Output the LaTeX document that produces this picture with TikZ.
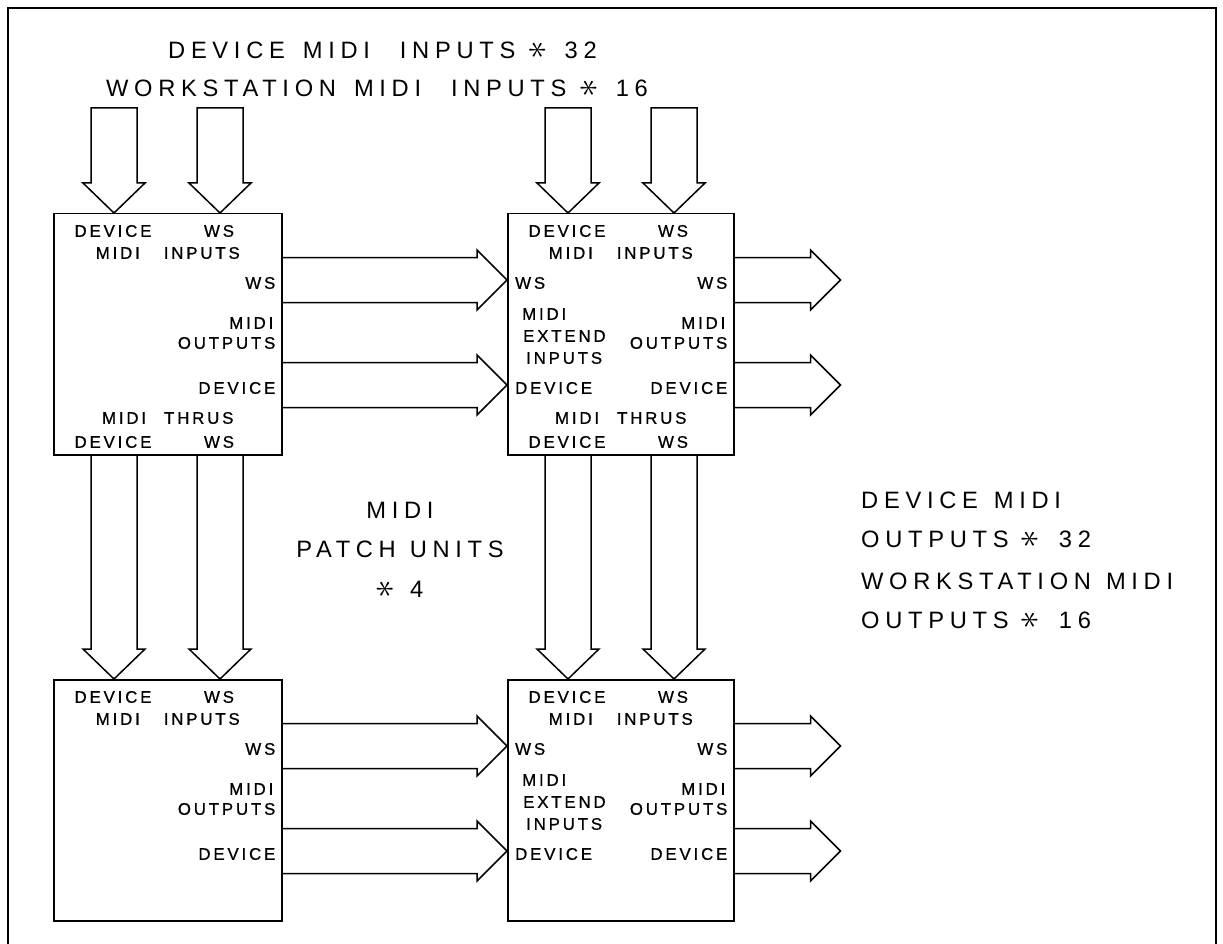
\documentclass[tikz,border=0pt]{standalone}
\usepackage{fontspec}
\setmainfont{Liberation Sans}
\newfontfamily\boxfont[LetterSpace=17,FakeBold=0.8]{Liberation Sans}
\newfontfamily\titlefont[LetterSpace=24]{Liberation Sans}
\usetikzlibrary{calc}
\newcommand{\mystar}{\scalebox{1.5}{\rotatebox[origin=c]{90}{$\ast$}}}
\newcommand{\tg}[1]{\hspace{#1pt}}
% fat hollow arrow pointing down: start, tip, closing
\newcommand{\fatdown}[3]{%
  \draw[fat] let \p1=(#1), \p2=(#2) in
   (\x1-23pt,\y1) -- (\x1-23pt,\y2+30pt) -- (\x1-31pt,\y2+30pt) -- (\x2,\y2)
   -- (\x1+31pt,\y2+30pt) -- (\x1+23pt,\y2+30pt) -- (\x1+23pt,\y1) #3;}
% fat hollow arrow pointing right: start, tip
\newcommand{\fatright}[2]{%
  \draw[fat] let \p1=(#1), \p2=(#2) in
   (\x1,\y1+22.5pt) -- (\x2-30pt,\y1+22.5pt) -- (\x2-30pt,\y1+30pt) -- (\x2,\y1)
   -- (\x2-30pt,\y1-30pt) -- (\x2-30pt,\y1-22.5pt) -- (\x1,\y1-22.5pt);}
\begin{document}
\begin{tikzpicture}[x=1pt,y=-1pt,
  unitbox/.style={draw,line width=1.5pt,minimum width=#1,minimum height=241pt,
    inner sep=0pt,anchor=north west},
  fat/.style={line width=1.5pt,line join=miter},
  lbl/.style={font={\boxfont\fontsize{16.8}{18}\selectfont},inner sep=0pt},
  ttl/.style={font={\titlefont\fontsize{23.7}{26}\selectfont},inner sep=0pt}]
\fill[white] (0,0) rectangle (1223,944);
\useasboundingbox (0,0) rectangle (1223,944);
% frame
\draw[line width=2pt] (8,950) -- (8,8) -- (1216,8) -- (1216,950);

% units
\node[unitbox=228pt] (tl) at (53,213) {};
\node[unitbox=226pt] (tr) at (507,213) {};
\node[unitbox=228pt] (bl) at (53,679) {};
\node[unitbox=226pt] (br) at (507,679) {};

\foreach \b in {tl,tr,bl,br} {
  \coordinate (\b-ta) at ($(\b.north west)+(61,0)$);
  \coordinate (\b-tb) at ($(\b.north west)+(167,0)$);
  \coordinate (\b-ba) at ($(\b.south west)+(61,0)$);
  \coordinate (\b-bb) at ($(\b.south west)+(167,0)$);
  \coordinate (\b-ra) at ($(\b.north east)+(0,67)$);
  \coordinate (\b-rb) at ($(\b.north east)+(0,172)$);
  \coordinate (\b-la) at ($(\b.north west)+(0,67)$);
  \coordinate (\b-lb) at ($(\b.north west)+(0,172)$);
  % common labels
  \node[lbl] (\b-l1) at ($(\b.north west)+(60,18)$) {DEVICE};
  \node[lbl] (\b-l2) at ($(\b.north west)+(166,18)$) {WS};
  \node[lbl] (\b-l3) at ($(\b.north)+(0,40)$) {MIDI\hspace{24pt}INPUTS};
  \node[lbl,anchor=east] (\b-l4) at ($(\b.north east)+(-7,70)$) {WS};
  \node[lbl,anchor=east] (\b-l5) at ($(\b.north east)+(-9,110)$) {MIDI};
  \node[lbl,anchor=east] (\b-l6) at ($(\b.north east)+(-7,130)$) {OUTPUTS};
  \node[lbl,anchor=east] (\b-l7) at ($(\b.north east)+(-7,175)$) {DEVICE};
}
% thru labels (upper units)
\foreach \b in {tl,tr} {
  \node[lbl] (\b-t1) at ($(\b.north)+(0,205)$) {MIDI\hspace{18pt}THRUS};
  \node[lbl] (\b-t2) at ($(\b.north west)+(60,229)$) {DEVICE};
  \node[lbl] (\b-t3) at ($(\b.north west)+(166,229)$) {WS};
}
% extend input labels (right units)
\foreach \b in {tr,br} {
  \node[lbl,anchor=west] (\b-e1) at ($(\b.north west)+(8,70)$) {WS};
  \node[lbl,anchor=west] (\b-e2) at ($(\b.north west)+(15,101)$) {MIDI};
  \node[lbl,anchor=west] (\b-e3) at ($(\b.north west)+(16,123)$) {EXTEND};
  \node[lbl,anchor=west] (\b-e4) at ($(\b.north west)+(19,145)$) {INPUTS};
  \node[lbl,anchor=west] (\b-e5) at ($(\b.north west)+(8,175)$) {DEVICE};
}

% input arrows from the top
\path (tl-ta) ++(0,-105) coordinate (itla);
\path (tl-tb) ++(0,-105) coordinate (itlb);
\path (tr-ta) ++(0,-105) coordinate (itra);
\path (tr-tb) ++(0,-105) coordinate (itrb);
\fatdown{itla}{tl-ta}{-- cycle}
\fatdown{itlb}{tl-tb}{-- cycle}
\fatdown{itra}{tr-ta}{-- cycle}
\fatdown{itrb}{tr-tb}{-- cycle}
% thru arrows down
\fatdown{tl-ba}{bl-ta}{}
\fatdown{tl-bb}{bl-tb}{}
\fatdown{tr-ba}{br-ta}{}
\fatdown{tr-bb}{br-tb}{}
% output to extend inputs
\fatright{tl-ra}{tr-la}
\fatright{tl-rb}{tr-lb}
\fatright{bl-ra}{br-la}
\fatright{bl-rb}{br-lb}
% final outputs
\path (tr-ra) ++(106,0) coordinate (otra);
\path (tr-rb) ++(106,0) coordinate (otrb);
\path (br-ra) ++(106,0) coordinate (obra);
\path (br-rb) ++(106,0) coordinate (obrb);
\fatright{tr-ra}{otra}
\fatright{tr-rb}{otrb}
\fatright{br-ra}{obra}
\fatright{br-rb}{obrb}

% titles
\node[ttl,anchor=west] (t1) at (168,50) {DEVICE\tg{18}MIDI\tg{30}INPUTS\tg{14}\mystar\tg{18}32};
\node[ttl,anchor=west] (t2) at (106,88) {WORKSTATION\tg{18}MIDI\tg{30}INPUTS\tg{14}\mystar\tg{18}16};
\node[ttl] (m1) at (400,510) {MIDI};
\node[ttl] (m2) at (400,549) {PATCH\tg{14}UNITS};
\node[ttl] (m3) at (400,589) {\mystar\tg{16}4};
\node[ttl,anchor=west] (r1) at (861,500) {DEVICE\tg{16}MIDI};
\node[ttl,anchor=west] (r2) at (861,539) {OUTPUTS\tg{13}\mystar\tg{20}32};
\node[ttl,anchor=west] (r3) at (861,581) {WORKSTATION\tg{15}MIDI};
\node[ttl,anchor=west] (r4) at (861,620) {OUTPUTS\tg{13}\mystar\tg{20}16};
\end{tikzpicture}
\end{document}
